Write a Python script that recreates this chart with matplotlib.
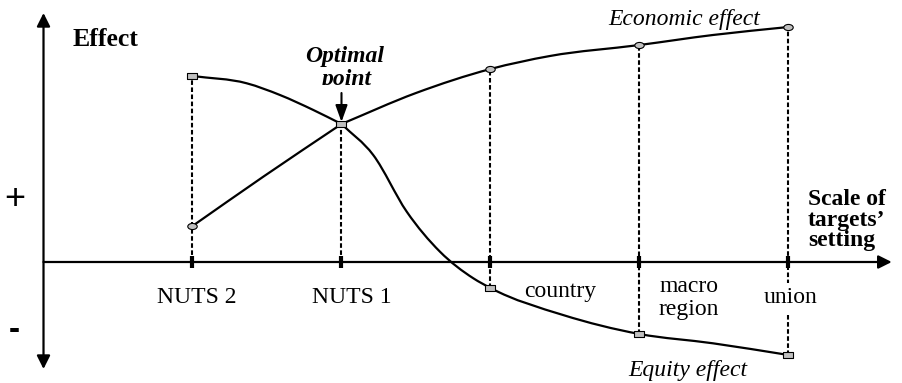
import numpy as np
import matplotlib
matplotlib.use('Agg')
import matplotlib.pyplot as plt
from matplotlib.path import Path
from matplotlib.patches import PathPatch
from matplotlib.transforms import Affine2D, Bbox, TransformedBbox

# scale levels along the x axis
levels = ['NUTS 2', 'NUTS 1', 'country', 'macro\nregion', 'union']
level_x = [1, 2, 3, 4, 5]

# effect at each level
economic = [0.36, 1.38, 1.93, 2.17, 2.35]
equity = [1.86, 1.38, -0.26, -0.72, -0.93]

# extra points, split at the optimal point
econ_left_x = [1.0, 1.475, 2.0]
econ_left_y = [0.36, 0.853, 1.38]
econ_right_x = [2.0, 2.5, 3.0, 3.399, 4.0, 4.493, 5.0]
econ_right_y = [1.38, 1.69, 1.93, 2.06, 2.17, 2.27, 2.35]
eq_left_x = [1.0, 1.364, 1.587, 1.811, 2.0]
eq_left_y = [1.86, 1.787, 1.67, 1.52, 1.38]
eq_right_x = [2.0, 2.213, 2.438, 2.661, 2.885, 3.0, 3.487, 4.0, 4.493, 5.0]
eq_right_y = [1.38, 1.07, 0.503, 0.103, -0.163, -0.26, -0.53, -0.72, -0.813, -0.93]

SERIF = 'Liberation Serif'
SANS = 'Liberation Sans'


def smooth_path(xs, ys):
    # cubic hermite through the points, written as bezier segments
    xs = np.asarray(xs, float)
    ys = np.asarray(ys, float)
    n = len(xs)
    h = np.diff(xs)
    d = np.diff(ys) / h
    m = np.zeros(n)
    m[0] = d[0]
    m[-1] = d[-1]
    for i in range(1, n - 1):
        # slope of the parabola through three neighbours
        m[i] = (h[i - 1] * d[i] + h[i] * d[i - 1]) / (h[i - 1] + h[i])
    verts = [(xs[0], ys[0])]
    codes = [Path.MOVETO]
    for i in range(n - 1):
        dx = h[i]
        verts += [(xs[i] + dx / 3, ys[i] + m[i] * dx / 3),
                  (xs[i + 1] - dx / 3, ys[i + 1] - m[i + 1] * dx / 3),
                  (xs[i + 1], ys[i + 1])]
        codes += [Path.CURVE4] * 3
    return Path(verts, codes)


fig = plt.figure(figsize=(9.02, 3.83), dpi=100)
ax = fig.add_axes([0, 0, 1, 1])
ax.set_xlim(-0.292, 5.762)
ax.set_ylim(-1.21, 2.62)
ax.axis('off')

# axes with arrows
ax.annotate('', xy=(0, 2.49), xytext=(0, -1.07),
            arrowprops=dict(arrowstyle='<|-|>', lw=1.6, color='k',
                            mutation_scale=20, shrinkA=0, shrinkB=0))
ax.annotate('', xy=(5.693, 0), xytext=(0, 0),
            arrowprops=dict(arrowstyle='-|>', lw=1.6, color='k',
                            mutation_scale=20, shrinkA=0, shrinkB=0))

# dashed drop lines
econ = np.array(economic)
eq = np.array(equity)
top = np.maximum(econ, eq)
bottom = np.minimum(np.minimum(econ, eq), 0)
ax.vlines(level_x, bottom, top, colors='k', linestyles=(0, (2.2, 1.2)), lw=1.5, zorder=1)

# ticks on the scale axis
ax.plot(level_x, np.zeros(len(level_x)), ls='none', marker='|', ms=8, mew=3, color='k', zorder=3)

# curves
for xs, ys in [(econ_left_x, econ_left_y), (econ_right_x, econ_right_y),
               (eq_left_x, eq_left_y), (eq_right_x, eq_right_y)]:
    ax.add_patch(PathPatch(smooth_path(xs, ys), fill=False, lw=1.6, ec='k', zorder=2))

# markers
ellipse = Path.unit_circle().transformed(Affine2D().scale(1, 0.65))
rect = Path([(-1, -0.7), (1, -0.7), (1, 0.7), (-1, 0.7), (-1, -0.7)],
            [Path.MOVETO, Path.LINETO, Path.LINETO, Path.LINETO, Path.CLOSEPOLY])
lx = np.array(level_x)
own = econ != eq
ax.plot(lx[own], econ[own], ls='none', marker=ellipse, ms=6.8, mfc='#c0c0c0', mec='k', mew=0.8, zorder=4)
ax.plot(lx, eq, ls='none', marker=rect, ms=6.8, mfc='#c0c0c0', mec='k', mew=0.8, zorder=4)

# text
ax.text(0.413, 2.16, 'Effect', family=SERIF, weight='bold', size=18.5, ha='center', va='baseline')
ax.text(-0.191, 0.63, '+', family=SANS, size=26, ha='center', va='center')
ax.text(-0.198, -0.69, '-', family=SANS, weight='bold', size=24, ha='center', va='center')

ax.text(2.023, 2.00, 'Optimal', family=SERIF, weight='bold', style='italic', size=17,
        ha='center', va='baseline')
pt = ax.text(2.037, 1.775, 'point', family=SERIF, weight='bold', style='italic', size=17,
             ha='center', va='baseline')
pt.set_clip_box(TransformedBbox(Bbox([[1.5, 1.77], [2.6, 2.2]]), ax.transData))
pt.set_clip_on(True)
ax.annotate('', xy=(2, 1.40), xytext=(2, 1.69),
            arrowprops=dict(arrowstyle='-|>,head_length=0.5,head_width=0.18', lw=1.5,
                            color='k', mutation_scale=20, shrinkA=0, shrinkB=0))

ax.text(4.299, 2.37, 'Economic effect', family=SERIF, style='italic', size=17,
        ha='center', va='baseline')
ax.text(4.326, -1.14, 'Equity effect', family=SERIF, style='italic', size=17,
        ha='center', va='baseline')

label_pos = [(1.03, -0.407), (2.07, -0.407), (3.466, -0.347), (4.332, -0.297), (5.017, -0.413)]
for name, (x, y) in zip(levels, label_pos):
    for k, line in enumerate(name.split('\n')):
        t = ax.text(x, y - 0.233 * k, line, family=SERIF, size=17, ha='center', va='baseline', zorder=5)
        if name == 'union':
            t.set_bbox(dict(boxstyle='square,pad=0.2', fc='white', ec='none'))

for k, line in enumerate(['Scale of', 'targets\u2019', 'setting']):
    ax.text(5.131, 0.57 - 0.205 * k, line, family=SERIF, weight='bold', size=17,
            ha='left', va='baseline')

fig.savefig('out.png', dpi=100)
